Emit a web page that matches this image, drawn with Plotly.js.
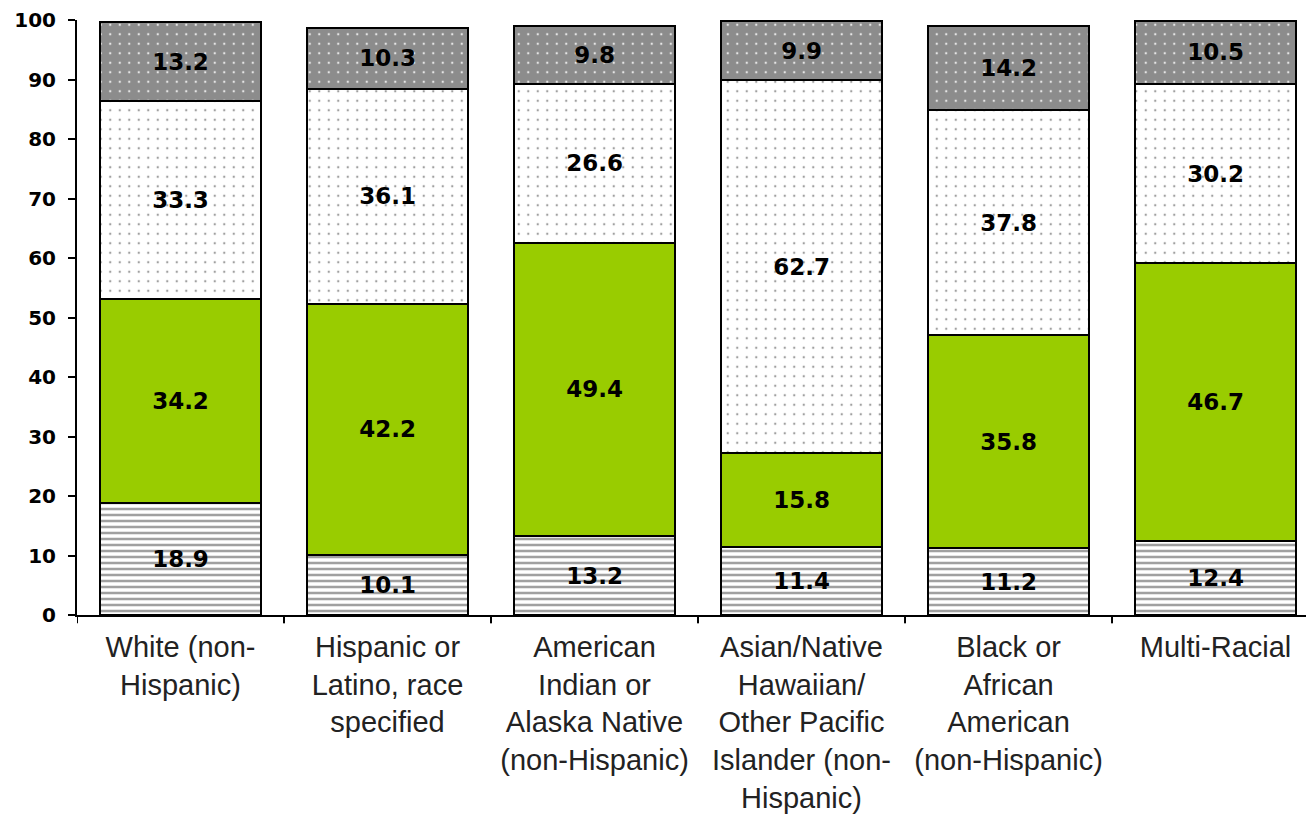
<!DOCTYPE html>
<html>
<head>
<meta charset="utf-8">
<script src="https://cdn.plot.ly/plotly-3.0.1.min.js"></script>
<style>
  html, body { margin: 0; padding: 0; background: #ffffff; }
  #chart { width: 1306px; height: 816px; }
</style>
</head>
<body>
<div id="chart"></div>
<script>
const categories = [
  "White (non-<br>Hispanic)",
  "Hispanic or<br>Latino, race<br>specified",
  "American<br>Indian or<br>Alaska Native<br>(non-Hispanic)",
  "Asian/Native<br>Hawaiian/<br>Other Pacific<br>Islander (non-<br>Hispanic)",
  "Black or<br>African<br>American<br>(non-Hispanic)",
  "Multi-Racial"
];
const seriesBottom = [18.9, 10.1, 13.2, 11.4, 11.2, 12.4];
const seriesGreen  = [34.2, 42.2, 49.4, 15.8, 35.8, 46.7];
const seriesDotted = [33.3, 36.1, 26.6, 62.7, 37.8, 30.2];
const seriesTop    = [13.2, 10.3, 9.8, 9.9, 14.2, 10.5];
const yTicks = [0, 10, 20, 30, 40, 50, 60, 70, 80, 90, 100];

const valueFont = { family: "DejaVu Sans", size: 23, color: "#000000", weight: "bold" };

function makeTrace(name, values, marker) {
  return {
    type: "bar",
    name: name,
    x: categories.map((c, i) => i),
    y: values,
    text: values.map(v => v.toFixed(1)),
    texttemplate: "<b>%{text}</b>",
    textposition: "inside",
    insidetextanchor: "middle",
    constraintext: "none",
    textangle: 0,
    insidetextfont: valueFont,
    textfont: valueFont,
    hoverinfo: "skip",
    marker: Object.assign({ line: { color: "#000000", width: 2 } }, marker)
  };
}

const data = [
  makeTrace("Series 1", seriesBottom, {
    color: "#ffffff",
    pattern: { shape: "-", fgcolor: "#a0a0a0", bgcolor: "#ffffff", size: 6, solidity: 0.42, fillmode: "replace" }
  }),
  makeTrace("Series 2", seriesGreen, { color: "#99cc00" }),
  makeTrace("Series 3", seriesDotted, {
    color: "#ffffff",
    pattern: { shape: ".", fgcolor: "#a0a0a0", bgcolor: "#ffffff", size: 9.5, solidity: 0.05, fillmode: "replace" }
  }),
  makeTrace("Series 4", seriesTop, {
    color: "#8c8c8c",
    pattern: { shape: ".", fgcolor: "#e6e6e6", bgcolor: "#8c8c8c", size: 9.5, solidity: 0.05, fillmode: "replace" }
  })
];

const layout = {
  width: 1306,
  height: 816,
  margin: { l: 77, r: 0, t: 20, b: 201 },
  paper_bgcolor: "#ffffff",
  plot_bgcolor: "#ffffff",
  barmode: "stack",
  bargap: 0.22,
  showlegend: false,
  xaxis: {
    type: "linear",
    range: [-0.5, 5.437],
    tickmode: "array",
    tickvals: categories.map((c, i) => i),
    ticktext: categories,
    showgrid: false,
    zeroline: false,
    showline: true,
    linecolor: "#000000",
    linewidth: 2,
    ticks: "",
    tickfont: { family: "Liberation Sans", size: 29, color: "#222222" },
    ticklabelstandoff: 5
  },
  yaxis: {
    range: [0, 100],
    tickmode: "array",
    tickvals: yTicks,
    ticktext: yTicks.map(String),
    showgrid: false,
    zeroline: false,
    showline: true,
    linecolor: "#000000",
    linewidth: 2,
    ticks: "outside",
    ticklen: 7,
    tickwidth: 2,
    tickcolor: "#000000",
    tickfont: { family: "DejaVu Sans", size: 20, color: "#000000", weight: "bold" },
    ticklabelstandoff: 8
  },
  shapes: [0, 1, 2, 3, 4, 5].map(i => ({
    type: "line", xref: "x", yref: "paper",
    x0: i - 0.5, x1: i - 0.5, y0: 0, y1: -0.014,
    line: { color: "#000000", width: 2 }
  }))
};

Plotly.newPlot("chart", data, layout, { displayModeBar: false, staticPlot: true });
</script>
</body>
</html>
